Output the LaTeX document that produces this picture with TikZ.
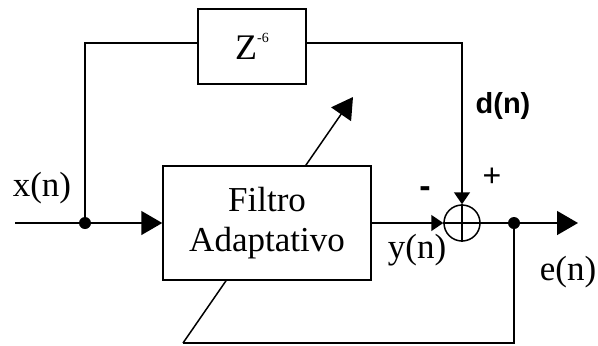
\documentclass[tikz,border=0pt]{standalone}
\usepackage{fontspec}
\setmainfont{Liberation Serif}
\newfontfamily\arialfont{Liberation Sans}
\usetikzlibrary{arrows.meta}
\tikzset{
  line/.style={line width=1.5bp},
  bigarrow/.style={-{Triangle[length=21bp,width=24bp]}},
  smallarrow/.style={-{Triangle[length=12bp,width=16bp]}},
  blockbox/.style={draw,line width=1.5bp,fill=white,inner sep=0pt},
  dotnode/.style={circle,fill=black,inner sep=0pt,minimum size=12bp},
  serif/.style={font=\fontsize{35bp}{40bp}\selectfont},
  sanslab/.style={font=\arialfont\fontsize{30bp}{30bp}\selectfont},
}
\begin{document}
\begin{tikzpicture}[x=1bp,y=-1bp]
\useasboundingbox (0,0) rectangle (598,345);
% coordinates
\coordinate (xin) at (15,223);
\coordinate (tl) at (85,43);
\coordinate (tr) at (462,43);
\coordinate (eout) at (578,223);
\coordinate (br) at (514,343);
\coordinate (bl) at (183,343);
\coordinate (tip) at (353,97);
% diagonal adaptation arrow (behind filter box)
\draw[line,bigarrow] (bl) -- (tip);
% blocks
\node[blockbox,minimum width=108bp,minimum height=75bp] (zbox) at (252,46.5)
  {\fontsize{36bp}{36bp}\selectfont Z\raisebox{17bp}{\fontsize{14bp}{14bp}\selectfont -6}};
\node[blockbox,serif,align=center,minimum width=208bp,minimum height=114bp] (filt) at (267,223)
  {Filtro\\Adaptativo};
\node[draw,circle,line width=1.5bp,minimum size=36bp,inner sep=0pt] (sum) at (462,223) {};
\draw[line] (sum.north) -- (sum.south) (sum.west) -- (sum.east);
\node[dotnode] (j1) at (85,223) {};
\node[dotnode] (j2) at (514,223) {};
% connectors
\draw[line] (xin) -- (j1);
\draw[line,bigarrow] (j1) -- (filt.west);
\draw[line] (j1) -- (tl) -- (tl -| zbox.west);
\draw[line,smallarrow] (tl -| zbox.east) -- (tr) -- (sum.north);
\draw[line,smallarrow] (filt.east) -- (sum.west);
\draw[line] (sum.east) -- (j2);
\draw[line,bigarrow] (j2) -- (eout);
\draw[line] (j2) -- (br) -- (bl);
% labels
\node[serif,anchor=base] (lx) at (42,196) {x(n)};
\node[serif,anchor=base] (ly) at (417,258) {y(n)};
\node[serif,anchor=base] (le) at (568,280) {e(n)};
\node[sanslab,font=\arialfont\bfseries\fontsize{29bp}{29bp}\selectfont,anchor=base] (ld) at (503,113) {d(n)};
\node[sanslab,font=\arialfont\bfseries\fontsize{34bp}{34bp}\selectfont] (lminus) at (425,192) {-};
\node[sanslab,font=\arialfont\fontsize{32bp}{32bp}\selectfont] (lplus) at (492,177) {+};
\end{tikzpicture}
\end{document}
